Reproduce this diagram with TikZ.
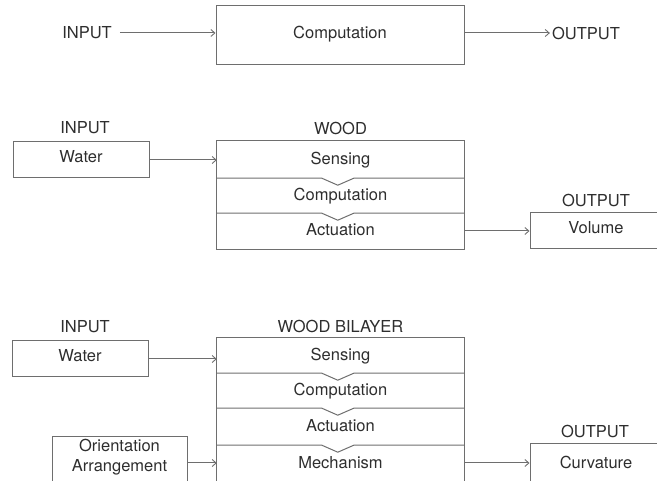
\documentclass[tikz,border=0pt]{standalone}
\usepackage{fontspec}
\setmainfont{TeX Gyre Heros}
\usetikzlibrary{arrows.meta}
\definecolor{linegray}{HTML}{6E6E6E}
\definecolor{textgray}{HTML}{2E2E2E}
\begin{document}
\begin{tikzpicture}[x=1pt,y=-1pt,
  every node/.style={font=\fontsize{16.5}{19.8}\selectfont, text=textgray},
  lab/.style={inner sep=0pt},
  box/.style={draw=linegray, line width=1pt, inner sep=0pt, text height=11.9pt, text depth=6pt},
  row/.style={inner sep=0pt, minimum width=247pt, text height=11.9pt, text depth=2pt},
  line/.style={draw=linegray, line width=1pt},
  arr/.style={line, -{Straight Barb[length=4pt,width=7pt,line width=0.9pt]}},
]
\useasboundingbox (0,0) rectangle (657,481);
\clip (0,0) rectangle (657,481);

% ---------- Row 1 ----------
\node[lab] (in1) at (87,33) {INPUT};
\node[box, minimum width=248pt, minimum height=59pt] (comp1) at (340,35.5) {Computation};
\node[lab] (out1) at (586,33) {OUTPUT};
\draw[arr, shorten <=8pt] (in1.east) -- (in1.east -| comp1.west);
\draw[arr, shorten >=2pt] (comp1.east |- out1.west) -- (out1.west);

% ---------- Row 2 ----------
\node[lab] (in2) at (85,128) {INPUT};
\node[box, minimum width=136pt, minimum height=36pt, text depth=7pt] (water2) at (81,160) {Water};
\node[lab] (wood2) at (340.5,128) {WOOD};
\node[row, minimum height=37pt] (sens2) at (340.5,159.5) {Sensing};
\node[row, minimum height=35pt] (comp2) at (340.5,195.5) {Computation};
\node[row, minimum height=36pt] (act2) at (340.5,231) {Actuation};
\draw[line] (sens2.north west) rectangle (act2.south east);
\draw[line] (sens2.south west) -- ++(105,0) -- ++(16,7) -- ++(16,-7) -- (sens2.south east);
\draw[line] (comp2.south west) -- ++(105,0) -- ++(16,7) -- ++(16,-7) -- (comp2.south east);
\node[lab] (out2) at (596,200) {OUTPUT};
\node[box, minimum width=132pt, minimum height=36pt, text depth=7pt] (vol2) at (596,231) {Volume};
\draw[arr] (water2.east) -- (water2.east -| sens2.west);
\draw[arr] (act2.east) -- (vol2.west);

% ---------- Row 3 ----------
\node[lab] (in3) at (85,327) {INPUT};
\node[box, minimum width=136pt, minimum height=36pt, text depth=7pt] (water3) at (80,359) {Water};
\node[lab] (wood3) at (340.5,326) {WOOD BILAYER};
\node[row, minimum height=35pt] (sens3) at (340.5,355.5) {Sensing};
\node[row, minimum height=35pt] (comp3) at (340.5,390.5) {Computation};
\node[row, minimum height=37pt] (act3) at (340.5,426.5) {Actuation};
\node[row, minimum height=40pt, text depth=0pt] (mech3) at (340.5,463) {Mechanism};
\draw[line] (sens3.north west) rectangle (mech3.south east);
\draw[line] (sens3.south west) -- ++(105,0) -- ++(16,7) -- ++(16,-7) -- (sens3.south east);
\draw[line] (comp3.south west) -- ++(105,0) -- ++(16,7) -- ++(16,-7) -- (comp3.south east);
\draw[line] (act3.south west) -- ++(105,0) -- ++(16,7) -- ++(16,-7) -- (act3.south east);
\node[box, minimum width=135pt, minimum height=52pt] (orient3) at (119.5,463) {};
\node[lab, align=center] (orienttxt) at (119.5,457.5) {Orientation\\Arrangement};
\node[lab] (out3) at (595,431) {OUTPUT};
\node[box, minimum width=132pt, minimum height=40pt, text depth=2pt] (curv3) at (596,464) {Curvature};
\draw[arr] (water3.east) -- (water3.east -| sens3.west);
\draw[arr] (orient3.east) -- (orient3.east -| mech3.west);
\draw[arr] (mech3.east) -- (mech3.east -| curv3.west);
\end{tikzpicture}
\end{document}
